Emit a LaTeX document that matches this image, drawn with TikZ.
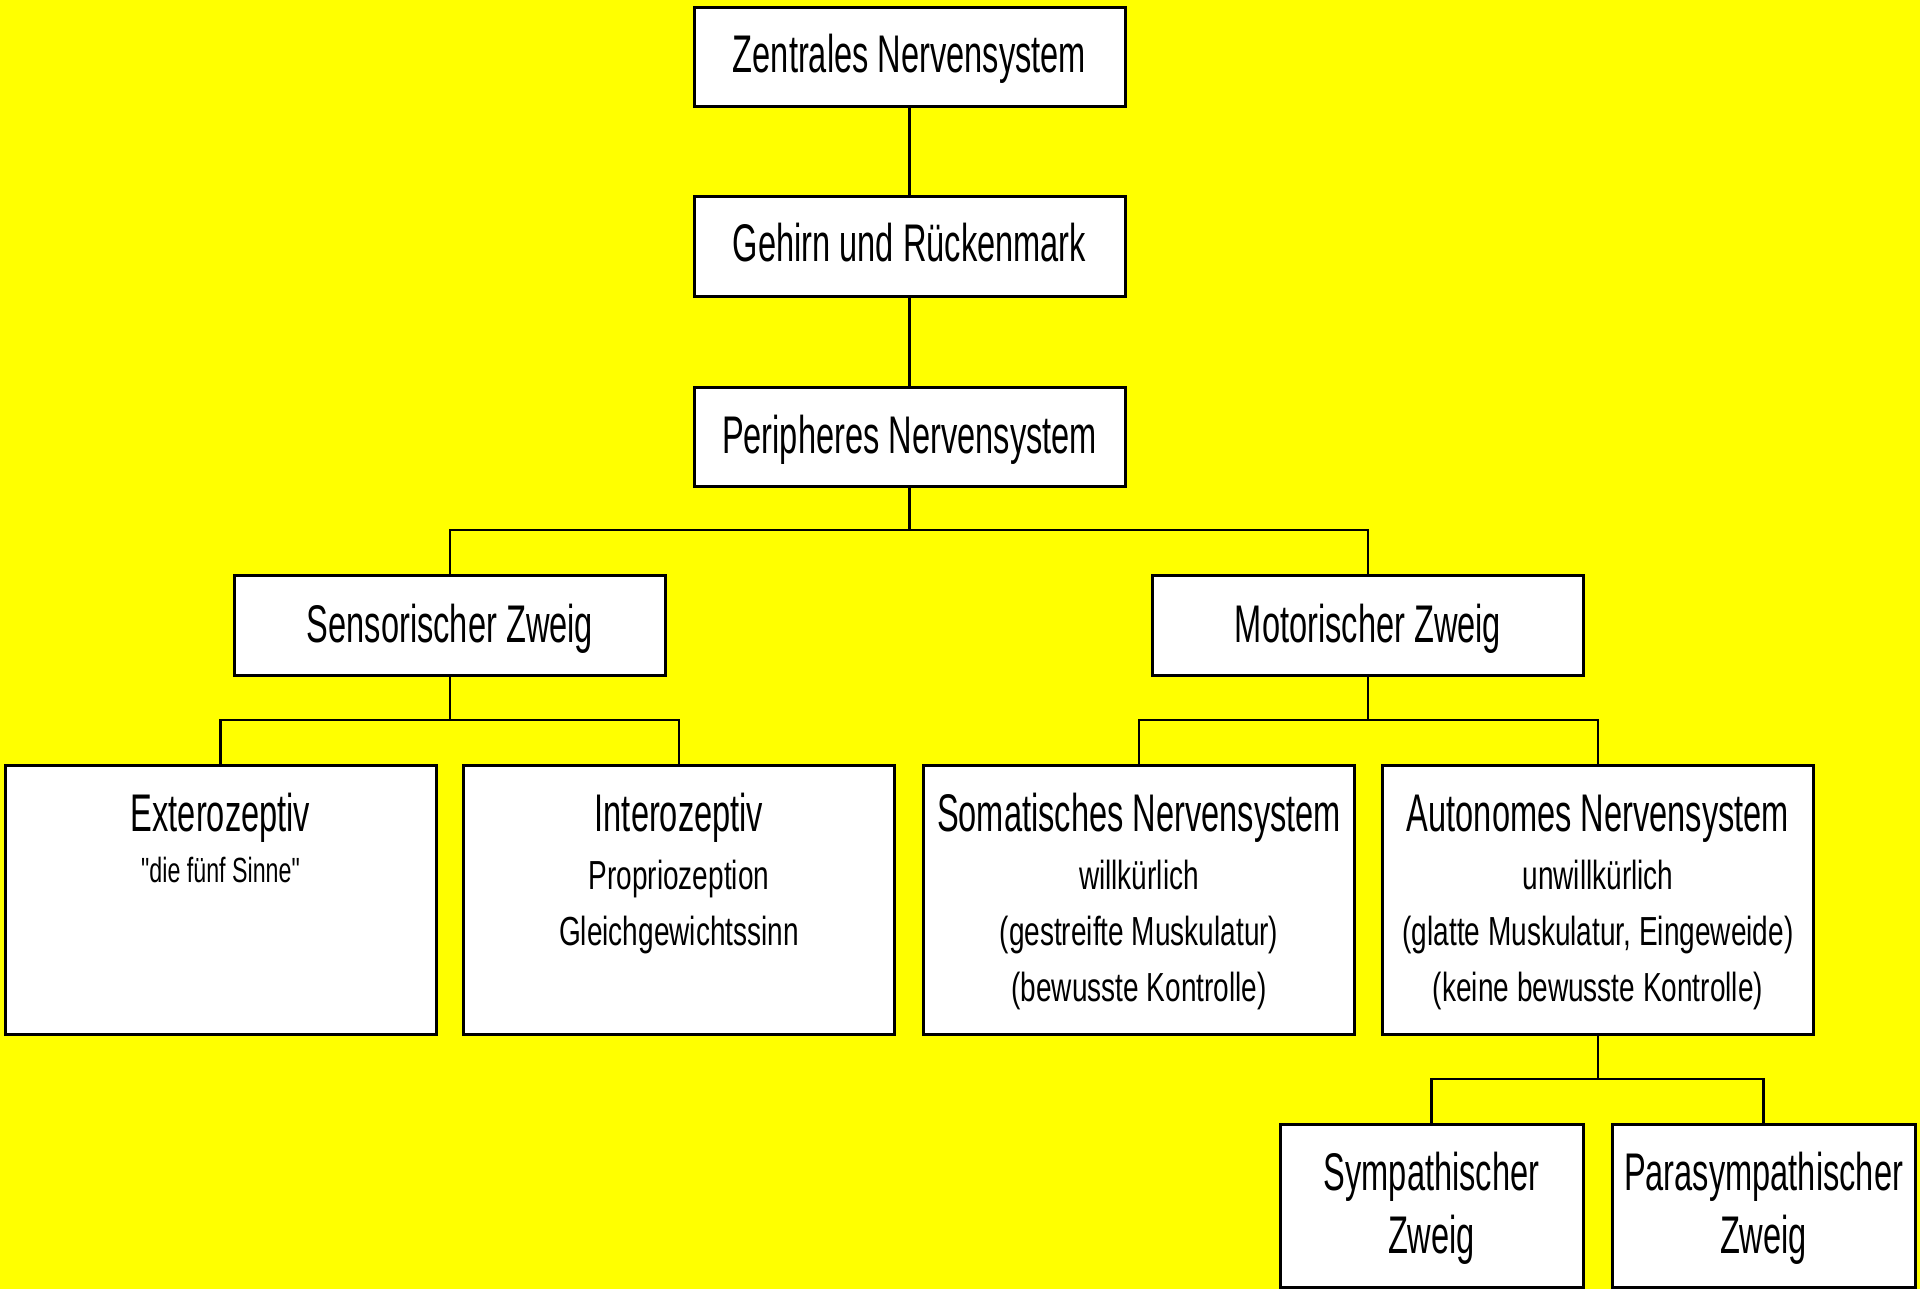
\documentclass[tikz,border=0pt]{standalone}
\usepackage{fontspec}
\setmainfont{Liberation Sans}[FakeStretch=0.615]
\newfontfamily\secfont{Liberation Sans}[FakeStretch=0.69]
\newfontfamily\smfont{Liberation Sans}[FakeStretch=0.664]
\definecolor{bgyellow}{RGB}{255,255,0}
\begin{document}
\begin{tikzpicture}[x=0.5pt,y=-0.5pt,
  box/.style={draw=black,fill=white,line width=1.5pt,inner sep=0pt,rectangle},
  bigbox/.style={box,minimum width=215.5pt,minimum height=49.5pt},
  midbox/.style={box,minimum width=215.5pt,minimum height=50pt},
  tallbox/.style={box,minimum width=215.5pt,minimum height=134.5pt},
  smallbox/.style={box,minimum width=151.5pt,minimum height=81.5pt},
  conn/.style={draw=black,line width=1.05pt},
  maintxt/.style={anchor=base,inner sep=0pt,font=\fontsize{26.5}{30}\selectfont},
  sectxt/.style={anchor=base,inner sep=0pt,font=\secfont\fontsize{20.3}{24}\selectfont},
  smtxt/.style={anchor=base,inner sep=0pt,font=\smfont\fontsize{17.5}{21}\selectfont}]
\fill[bgyellow] (0,0) rectangle (1920,1289);
\useasboundingbox (0,0) rectangle (1920,1289);

% boxes
\node[bigbox] (zns) at (909.5,57.5) {};
\node[bigbox] (ghr) at (909.5,246.5) {};
\node[bigbox] (pns) at (909.5,436.5) {};
\node[midbox] (sen) at (450,625) {};
\node[midbox] (mot) at (1368,625) {};
\node[tallbox] (ext) at (220.5,899.5) {};
\node[tallbox] (int) at (679,899.5) {};
\node[tallbox] (som) at (1139,899.5) {};
\node[tallbox] (aut) at (1598,899.5) {};
\node[smallbox] (sym) at (1431.5,1205.5) {};
\node[smallbox] (par) at (1763.5,1205.5) {};

% junctions
\coordinate (j1) at (909.5,530);
\coordinate (j2) at (450,720);
\coordinate (j3) at (1368,720);
\coordinate (j4) at (1598,1079);

% connectors
\draw[conn] (zns.south) -- (ghr.north);
\draw[conn] (ghr.south) -- (pns.north);
\draw[conn] (pns.south) -- (j1);
\draw[conn] (sen.north) |- (j1);
\draw[conn] (mot.north) |- (j1);
\draw[conn] (sen.south) -- (j2);
\draw[conn] (ext.north) |- (j2);
\draw[conn] (int.north) |- (j2);
\draw[conn] (mot.south) -- (j3);
\draw[conn] (som.north) |- (j3);
\draw[conn] (aut.north) |- (j3);
\draw[conn] (aut.south) -- (j4);
\draw[conn] (sym.north) |- (j4);
\draw[conn] (par.north) |- (j4);

% texts
\node[maintxt] (t1) at (909.5,73) {Zentrales Nervensystem};
\node[maintxt] (t2) at (909.5,262) {Gehirn und Rückenmark};
\node[maintxt] (t3) at (909.5,453) {Peripheres Nervensystem};
\node[maintxt] (t4) at (450,642) {Sensorischer Zweig};
\node[maintxt] (t5) at (1368,642) {Motorischer Zweig};

\node[maintxt] (t6) at (220.5,831) {Exterozeptiv};
\node[smtxt] (t6a) at (220.5,882) {"die fünf Sinne"};

\node[maintxt] (t7) at (679,831) {Interozeptiv};
\node[sectxt] (t7a) at (679,889) {Propriozeption};
\node[sectxt] (t7b) at (679,945) {Gleichgewichtssinn};

\node[maintxt] (t8) at (1139,831) {Somatisches Nervensystem};
\node[sectxt] (t8a) at (1139,889) {willkürlich};
\node[sectxt] (t8b) at (1139,945) {(gestreifte Muskulatur)};
\node[sectxt] (t8c) at (1139,1001) {(bewusste Kontrolle)};

\node[maintxt] (t9) at (1598,831) {Autonomes Nervensystem};
\node[sectxt] (t9a) at (1598,889) {unwillkürlich};
\node[sectxt] (t9b) at (1598,945) {(glatte Muskulatur, Eingeweide)};
\node[sectxt] (t9c) at (1598,1001) {(keine bewusste Kontrolle)};

\node[maintxt] (t10) at (1431.5,1190) {Sympathischer};
\node[maintxt] (t10a) at (1431.5,1253) {Zweig};
\node[maintxt] (t11) at (1763.5,1190) {Parasympathischer};
\node[maintxt] (t11a) at (1763.5,1253) {Zweig};
\end{tikzpicture}
\end{document}
